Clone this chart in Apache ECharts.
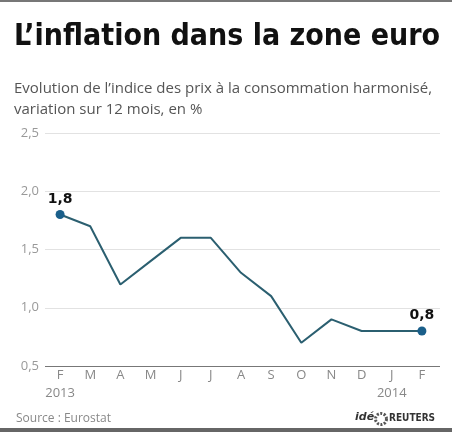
<!DOCTYPE html>
<html>
<head>
<meta charset="utf-8">
<script src="https://cdn.jsdelivr.net/npm/echarts@6/dist/echarts.min.js"></script>
<style>
  html, body { margin: 0; padding: 0; background: #fff; }
  #chart { width: 452px; height: 432px; }
</style>
</head>
<body>
<div id="chart"></div>
<script>
var months = ["F", "M", "A", "M", "J", "J", "A", "S", "O", "N", "D", "J", "F"];
var years = { 0: "2013", 11: "2014" };
var inflation = [1.8, 1.7, 1.2, 1.4, 1.6, 1.6, 1.3, 1.1, 0.7, 0.9, 0.8, 0.8, 0.8];

var chart = echarts.init(document.getElementById("chart"));

var points = inflation.map(function (v, i) { return [i, v]; });
var last = inflation.length - 1;

var option = {
  backgroundColor: "#fff",
  animation: false,
  title: [
    {
      text: "L’inflation dans la zone euro",
      left: 9,
      top: 17,
      textStyle: { fontFamily: "DejaVu Sans Condensed", fontWeight: "bold", fontSize: 30, color: "#111" }
    },
    {
      text: "Evolution de l’indice des prix à la consommation harmonisé,\nvariation sur 12 mois, en %",
      left: 9,
      top: 73,
      textStyle: { fontFamily: "Open Sans", fontWeight: "normal", fontSize: 15, lineHeight: 21, color: "#555" }
    }
  ],
  grid: { left: 45, right: 12, top: 133, bottom: 66 },
  xAxis: {
    type: "value",
    min: -0.5,
    max: 12.6,
    axisLine: { show: false },
    axisTick: { show: false },
    splitLine: { show: false },
    axisLabel: {
      customValues: months.map(function (m, i) { return i; }),
      margin: 0,
      color: "#888",
      fontFamily: "Open Sans",
      fontSize: 13,
      lineHeight: 18,
      formatter: function (v) {
        var s = months[v];
        if (years[v]) s += "\n" + years[v];
        return s;
      }
    }
  },
  yAxis: {
    type: "value",
    min: 0.5,
    max: 2.5,
    interval: 0.5,
    axisLine: { show: false },
    axisTick: { show: false },
    axisLabel: {
      margin: 6,
      color: "#999",
      fontFamily: "Open Sans",
      fontSize: 13,
      formatter: function (v) { return v.toFixed(1).replace(".", ","); }
    },
    splitLine: {
      lineStyle: { color: "#e2e2e2", width: 1 }
    }
  },
  series: [
    {
      type: "line",
      data: points,
      symbol: "circle",
      symbolSize: function (val, p) { return (p.dataIndex === 0 || p.dataIndex === last) ? 9 : 0; },
      showAllSymbol: true,
      lineStyle: { color: "#2b5f70", width: 2 },
      itemStyle: { color: "#1a5f8a" },
      label: {
        show: true,
        position: "top",
        distance: 4,
        color: "#111",
        fontFamily: "DejaVu Sans",
        fontWeight: "bold",
        fontSize: 14,
        formatter: function (p) {
          return (p.dataIndex === 0 || p.dataIndex === last) ? String(p.value[1]).replace(".", ",") : "";
        }
      },
      markLine: {
        silent: true,
        symbol: "none",
        label: { show: false },
        lineStyle: { color: "#777", type: "solid", width: 1 },
        data: [{ yAxis: 0.5 }]
      }
    }
  ],
  graphic: [
    { type: "rect", shape: { x: 0, y: 0, width: 452, height: 2 }, style: { fill: "#777" } },
    { type: "rect", shape: { x: 0, y: 428, width: 452, height: 4 }, style: { fill: "#666" } },
    {
      type: "text", left: 16, top: 413,
      style: { text: "Source : Eurostat", fill: "#888", font: "12px 'Open Sans'" }
    },
    {
      type: "text", left: 355, top: 412,
      style: { text: "idé", fill: "#333", font: "italic bold 11px 'DejaVu Sans'" }
    },
    {
      type: "circle", shape: { cx: 381, cy: 419, r: 5.5 },
      style: { fill: "none", stroke: "#555", lineWidth: 3, lineDash: [2, 1.5] }
    },
    {
      type: "text", left: 389, top: 413,
      style: { text: "REUTERS", fill: "#333", font: "bold 10px 'DejaVu Sans Condensed'" }
    }
  ]
};

chart.setOption(option);
</script>
</body>
</html>
